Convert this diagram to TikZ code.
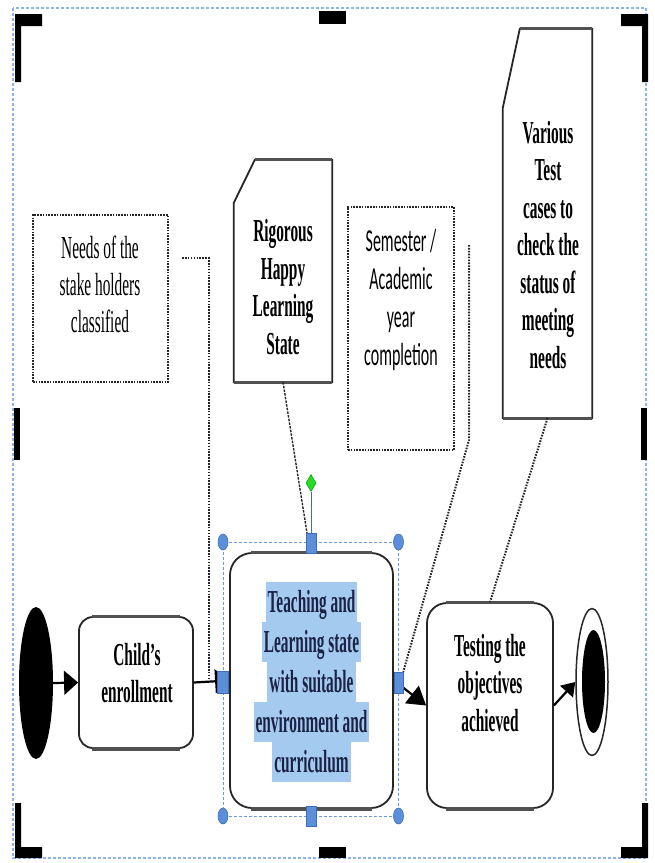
\documentclass[tikz,border=0pt]{standalone}
\usepackage{fontspec}
\usetikzlibrary{arrows.meta,shapes.geometric,calc}
\newfontfamily\tnrfont[FakeStretch=0.48]{Liberation Serif}
\newfontfamily\calfont[FakeStretch=0.5]{Carlito}
\definecolor{selblue}{HTML}{6A9BE0}
\definecolor{outblue}{HTML}{8DB3E8}
\definecolor{handlefill}{HTML}{5B8FD9}
\definecolor{handledraw}{HTML}{3D6DB8}
\definecolor{hlblue}{HTML}{A5CAF0}
\definecolor{navy}{HTML}{1B2344}
\definecolor{edgec}{HTML}{262626}
\definecolor{greenh}{HTML}{22DD22}
\newcommand\hlline[1]{{\setlength{\fboxsep}{0pt}\colorbox{hlblue}{\rule[-10pt]{0pt}{40pt}\hspace{2pt}#1\hspace{2pt}}}}
\tikzset{
  boxline/.style={draw=edgec, line width=1.8pt},
  hedge/.style={draw=edgec!80, line width=3.2pt},
  dotbox/.style={draw=edgec, line width=2.2pt, dash pattern=on 1.6pt off 1.2pt},
  dotline/.style={draw=edgec, line width=2pt, dash pattern=on 1.6pt off 1.3pt},
  fineline/.style={draw=edgec, line width=1.4pt, dash pattern=on 2.5pt off 1.2pt},
  flow/.style={draw=black, line width=2.2pt, -{Triangle[length=14pt,width=24pt]}},
  txt/.style={align=center, inner sep=0pt, font=\tnrfont\bfseries\fontsize{32}{37.5}\selectfont},
  handle/.style={draw=handledraw, fill=handlefill, line width=0.6pt, rectangle, inner sep=0pt},
  knob/.style={draw=handledraw, fill=handlefill, line width=0.6pt, ellipse, inner sep=0pt, minimum width=10pt, minimum height=16pt},
  bar/.style={fill=black, draw=none}
}
\begin{document}
\begin{tikzpicture}[x=1pt,y=-1pt]
\useasboundingbox (0,0) rectangle (654,863);
% outer selection frame
\draw[outblue, line width=1.2pt, dash pattern=on 3pt off 2pt] (13,8) rectangle (646,858);
% corner brackets
\fill[bar] (15,14) -- (42,14) -- (42,26) -- (21,26) -- (21,82) -- (15,82) -- cycle;
\fill[bar] (319,11) rectangle (346,24);
\fill[bar] (621,14) -- (648,14) -- (648,82) -- (642,82) -- (642,26) -- (621,26) -- cycle;
\fill[bar] (14,408) rectangle (20,460);
\fill[bar] (641,408) rectangle (647,460);
\fill[bar] (15,803) -- (21,803) -- (21,847) -- (42,847) -- (42,858) -- (15,858) -- cycle;
\fill[bar] (319,847) rectangle (346,858);
\fill[bar] (642,803) -- (648,803) -- (648,858) -- (621,858) -- (621,847) -- (642,847) -- cycle;

% main nodes
\node[ellipse, fill=black, inner sep=0pt, minimum width=34pt, minimum height=152pt] (start) at (36,683) {};
\node[boxline, rectangle, rounded corners=14pt, minimum width=114pt, minimum height=131pt, inner sep=0pt] (child) at (136,682.5) {};
\draw[hedge] ([xshift=14pt]child.north west) -- ([xshift=-14pt]child.north east);
\draw[hedge] ([xshift=14pt]child.south west) -- ([xshift=-14pt]child.south east);
\node[txt] (childT) at (137,673) {Child’s\\enrollment};

\node[boxline, rectangle, rounded corners=22pt, minimum width=163pt, minimum height=255pt, inner sep=0pt] (teach) at (311.5,680.5) {};
\draw[hedge] ([xshift=22pt]teach.north west) -- ([xshift=-22pt]teach.north east);
\draw[hedge] ([xshift=22pt]teach.south west) -- ([xshift=-22pt]teach.south east);
\node[txt, text=navy, font=\tnrfont\bfseries\fontsize{32}{40}\selectfont] (teachT) at (311.5,682) {\hlline{Teaching and}\\\hlline{Learning state}\\\hlline{with suitable}\\\hlline{environment and}\\\hlline{curriculum}};

\node[boxline, rectangle, rounded corners=20pt, minimum width=126pt, minimum height=205pt, inner sep=0pt] (test) at (490,705.5) {};
\draw[hedge] ([xshift=20pt]test.north west) -- ([xshift=-20pt]test.north east);
\draw[hedge] ([xshift=20pt]test.south west) -- ([xshift=-20pt]test.south east);
\node[txt] (testT) at (490,683) {Testing the\\objectives\\achieved};

\node[ellipse, draw=edgec, line width=1.5pt, fill=white, inner sep=0pt, minimum width=32pt, minimum height=147pt] (endO) at (592,682) {};
\node[ellipse, fill=black, inner sep=0pt, minimum width=23pt, minimum height=103pt] (endI) at (593.5,681.5) {};

% notes
\node[dotbox, rectangle, minimum width=135pt, minimum height=167pt, inner sep=0pt] (needs) at (100.5,298.5) {};
\node[txt, font=\tnrfont\fontsize{32}{37}\selectfont] (needsT) at (100,284) {Needs of the\\stake holders\\classified};

\node[rectangle, minimum width=98pt, minimum height=222pt, inner sep=0pt] (rig) at (283,271) {};
\draw[boxline] ([xshift=21pt]rig.north west) -- (rig.north east) -- (rig.south east) -- (rig.south west) -- ([yshift=-43pt]rig.north west) -- cycle;
\draw[hedge] ([xshift=21pt]rig.north west) -- (rig.north east);
\draw[hedge] (rig.south west) -- (rig.south east);
\node[txt] (rigT) at (283,287) {Rigorous\\Happy\\Learning\\State};

\node[dotbox, rectangle, minimum width=106pt, minimum height=243pt, inner sep=0pt] (sem) at (401,328.5) {};
\node[txt, font=\calfont\fontsize{32}{38.3}\selectfont] (semT) at (401,300) {Semester /\\Academic\\year\\completion};

\node[rectangle, minimum width=89pt, minimum height=389pt, inner sep=0pt] (var) at (547.5,223.5) {};
\draw[boxline] ([xshift=17pt]var.north west) -- (var.north east) -- (var.south east) -- (var.south west) -- ([yshift=-79pt]var.north west) -- cycle;
\draw[hedge] ([xshift=17pt]var.north west) -- (var.north east);
\draw[hedge] (var.south west) -- (var.south east);
\node[txt] (varT) at (548,245) {Various\\Test\\cases to\\check the\\status of\\meeting\\needs};

% dotted connectors
\coordinate (n1) at (182,258);
\coordinate (n2) at (209,682);
\draw[dotline] (n1) -| (n2);
\coordinate (s1) at (469,245);
\coordinate (s2) at (469,440);
\draw[fineline] (rig.south) -- (307,533);
\draw[dotline] (var.south) -- (test.north);

% flow arrows
\draw[flow] (start.east) -- (child.west);
\draw[flow] (child.east) -- (teach.west);
\draw[flow, -{Triangle[length=18pt,width=22pt]}] (398.5,684) -- (test.west);
\draw[flow, -{Triangle[length=13pt,width=17pt]}] (test.east) -- (endO.west);

% selection decorations
\draw[selblue, line width=1pt, dash pattern=on 3pt off 2pt] (223,542) rectangle (398.5,816);
\node[knob] (k1) at (223,542) {};
\node[knob] (k2) at (398.5,542) {};
\node[knob] (k3) at (223,816) {};
\node[knob] (k4) at (398.5,816) {};
\node[handle, minimum width=10pt, minimum height=20pt] (hN) at (311,543) {};
\node[handle, minimum width=10pt, minimum height=20pt] (hS) at (311,816) {};
\node[handle, minimum width=11pt, minimum height=22pt] (hW) at (223,682) {};
\node[handle, minimum width=9pt, minimum height=21pt] (hE) at (398.5,682.5) {};
\node[diamond, draw=green!60!black, fill=greenh, line width=0.5pt, inner sep=0pt, minimum width=10pt, minimum height=17pt] (rot) at (311,483) {};
\draw[handledraw, line width=1pt] (rot.south) -- (hN.north);
\draw[dotline] (s1) -- (s2) -- (hE.north east);
\end{tikzpicture}
\end{document}
